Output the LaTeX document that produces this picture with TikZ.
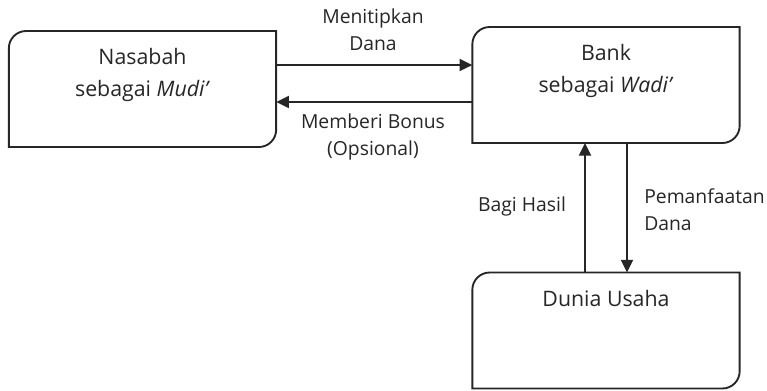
\documentclass[tikz,border=0pt]{standalone}
\usepackage{fontspec}
\setmainfont{Open Sans}
\usetikzlibrary{calc,arrows.meta}

\definecolor{ink}{HTML}{262626}

\tikzset{
  boxarea/.style={minimum width=200.5pt, minimum height=87pt, inner sep=0pt, outer sep=0pt},
  boxtext/.style={align=center, text=ink, font=\fontsize{16}{24}\selectfont, anchor=north, inner sep=0pt},
  lbl/.style={text=ink, font=\fontsize{14.5}{20}\selectfont, inner sep=0pt},
  boxline/.style={draw=ink, line width=1.4pt},
  arr/.style={draw=ink, line width=1.5pt, -{Triangle[length=9.5pt,width=9pt]}}
}

\newcommand\diagbox[1]{%
  \draw[boxline] (#1.south west) -- ([yshift=-\rr]#1.north west)
    .. controls ([yshift=-\rc]#1.north west) and ([xshift=\rc]#1.north west) .. ([xshift=\rr]#1.north west)
    -- (#1.north east) -- ([yshift=\rr]#1.south east)
    .. controls ([yshift=\rc]#1.south east) and ([xshift=-\rc]#1.south east) .. ([xshift=-\rr]#1.south east)
    -- cycle;}

\begin{document}
\begin{tikzpicture}[x=0.75pt,y=-0.75pt]

% ------------------------
% PARAMETERS
% ------------------------
\def\rr{13pt}
\def\rc{5.8pt}
\def\hgap{18pt}
\def\lgap{9.75pt}
\def\vgap{15.75pt}

\useasboundingbox (0,0) rectangle (767,390);

% ------------------------
% Boxes
% ------------------------
\node[boxarea] (nasabah) at (142.5,89) {};
\node[boxarea] (bank) at (606,85) {};
\node[boxarea] (usaha) at (606,330.5) {};

\diagbox{nasabah}
\diagbox{bank}
\diagbox{usaha}

\node[boxtext] (nasabahText) at ([yshift=-13pt]nasabah.north) {Nasabah\\sebagai \textit{Mudi’}};
\node[boxtext] (bankText) at ([yshift=-13pt]bank.north) {Bank\\sebagai \textit{Wadi’}};
\node[boxtext] (usahaText) at ([yshift=-13.5pt]usaha.north) {Dunia Usaha};

% ------------------------
% Flows between boxes
% ------------------------
\draw[arr] ([yshift=\hgap]nasabah.east) -- ([yshift=\hgap]nasabah.east -| bank.west);
\draw[arr] ([yshift=-\lgap]nasabah.east -| bank.west) -- ([yshift=-\lgap]nasabah.east);

\draw[arr] ([xshift=-\vgap]usaha.north) -- ([xshift=-\vgap]usaha.north |- bank.south);
\draw[arr] ([xshift=\vgap]bank.south) -- ([xshift=\vgap]bank.south |- usaha.north);

% ------------------------
% Labels
% ------------------------
\node[lbl, align=center] (titipLabel) at (373,30) {Menitipkan\\Dana};
\node[lbl, align=center] (bonusLabel) at (373,137) {Memberi Bonus\\(Opsional)};
\node[lbl] (bagiLabel) at (522,206) {Bagi Hasil};
\node[lbl, align=left, anchor=west] (manfaatLabel) at (644,210) {Pemanfaatan\\Dana};

\end{tikzpicture}
\end{document}
